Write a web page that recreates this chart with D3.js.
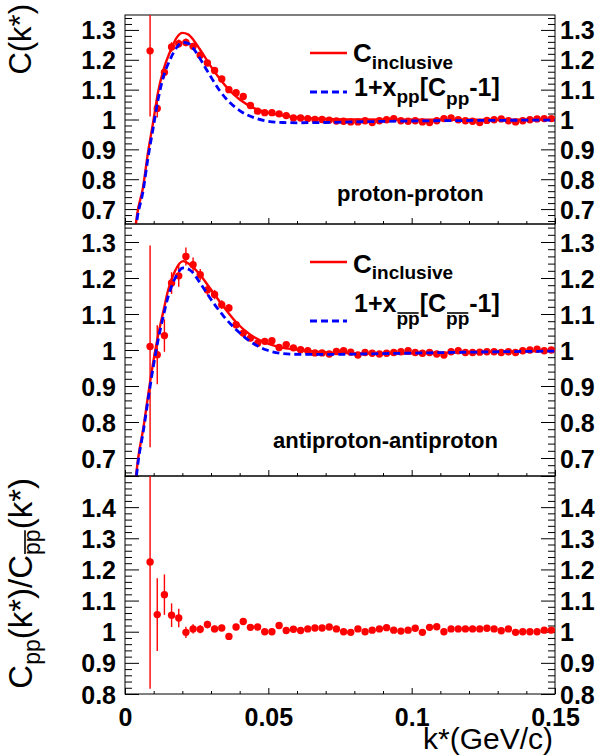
<!DOCTYPE html>
<html><head><meta charset="utf-8">
<script src="https://cdn.jsdelivr.net/npm/d3@7"></script>
<style>body{margin:0;background:#fff}svg{display:block}</style>
</head><body>
<svg id="c" width="606" height="755"></svg>
<script>
// ---------------- DATA ----------------
const kValues = [
 0.00875,0.01125,0.01375,0.01625,0.01875,0.02125,0.02375,0.02625,0.02875,0.03125,
 0.03375,0.03625,0.03875,0.04125,0.04375,0.04625,0.04875,0.05125,0.05375,0.05625,
 0.05875,0.06125,0.06375,0.06625,0.06875,0.07125,0.07375,0.07625,0.07875,0.08125,
 0.08375,0.08625,0.08875,0.09125,0.09375,0.09625,0.09875,0.10125,0.10375,0.10625,
 0.10875,0.11125,0.11375,0.11625,0.11875,0.12125,0.12375,0.12625,0.12875,0.13125,
 0.13375,0.13625,0.13875,0.14125,0.14375,0.14625,0.14875];

const ppValues = [
 1.230,1.037,1.158,1.243,1.254,1.258,1.245,1.215,1.189,1.164,
 1.136,1.100,1.090,1.077,1.047,1.028,1.023,1.023,1.019,1.013,
 1.005,1.005,1.003,1.000,1.000,0.998,0.995,0.994,0.992,0.992,
 0.996,0.990,0.996,0.999,1.003,0.996,0.994,0.996,0.992,0.990,
 0.996,1.003,1.005,0.999,0.996,0.994,0.990,0.997,0.999,1.002,
 0.996,0.992,0.996,0.999,1.002,1.003,1.003];
const ppErrors = [
 0.220,0.030,0.020,0.016,0.014,0.013,0.012,0.011,0.010,0.010,
 0.009,0.009,0.008,0.008,0.008,0.007,0.007,0.007,0.006,0.006,
 0.006,0.006,0.006,0.005,0.005,0.005,0.005,0.005,0.005,0.005,
 0.005,0.005,0.005,0.005,0.005,0.005,0.005,0.005,0.005,0.005,
 0.004,0.004,0.004,0.004,0.004,0.004,0.004,0.004,0.004,0.004,
 0.004,0.004,0.004,0.004,0.004,0.004,0.004];

const apValues = [
 1.010,0.987,1.040,1.186,1.206,1.260,1.237,1.209,1.167,1.154,
 1.126,1.117,1.070,1.047,1.033,1.019,1.024,1.026,1.007,1.015,
 1.006,1.001,0.998,0.992,0.992,0.989,0.996,0.998,0.994,0.986,
 0.993,0.991,0.989,0.991,0.993,0.995,0.998,0.993,0.991,0.993,
 0.989,0.986,0.995,0.998,0.993,0.993,0.994,0.995,0.995,0.993,
 0.995,0.993,0.998,1.000,1.002,0.998,1.000];
const apErrors = [
 0.280,0.082,0.045,0.030,0.030,0.025,0.020,0.016,0.014,0.013,
 0.012,0.011,0.010,0.010,0.009,0.009,0.008,0.008,0.008,0.007,
 0.007,0.007,0.007,0.006,0.006,0.006,0.006,0.006,0.006,0.006,
 0.006,0.006,0.006,0.006,0.005,0.005,0.005,0.005,0.005,0.005,
 0.005,0.005,0.005,0.005,0.005,0.005,0.005,0.005,0.005,0.005,
 0.005,0.005,0.005,0.005,0.005,0.005,0.005];

const ratioValues = [
 1.224,1.055,1.119,1.053,1.044,0.998,1.009,1.008,1.023,1.009,
 1.012,0.985,1.015,1.033,1.014,1.015,1.000,1.000,1.020,1.004,
 1.008,1.004,1.009,1.012,1.012,1.015,1.009,1.000,0.998,1.009,
 1.000,1.005,1.009,1.013,1.005,1.002,1.005,1.011,0.998,1.014,
 1.016,1.000,1.009,1.009,1.009,1.009,1.009,1.011,1.009,1.003,
 1.009,0.998,1.000,1.000,1.000,1.005,1.005];
const ratioErrors = [
 0.407,0.117,0.065,0.038,0.030,0.018,0.015,0.013,0.012,0.011,
 0.010,0.010,0.010,0.009,0.009,0.009,0.008,0.008,0.008,0.008,
 0.008,0.008,0.007,0.007,0.007,0.007,0.007,0.007,0.007,0.007,
 0.007,0.007,0.007,0.007,0.006,0.006,0.006,0.006,0.006,0.006,
 0.006,0.006,0.006,0.006,0.006,0.006,0.006,0.006,0.006,0.006,
 0.006,0.006,0.006,0.006,0.006,0.006,0.006];

// fitted curves
const ppCurveK      = [0.0032,0.0042,0.0063,0.0080,0.0098,0.0115,0.0133,0.0157,0.0181,0.0200,0.0220,0.0240,0.0260,0.0280,0.0300,0.0330,0.0360,0.0400,0.0450,0.0500,0.0550,0.0600,0.0700,0.0800,0.1000,0.1250,0.1500];
const ppInclusive   = [0.600,0.680,0.773,0.888,0.990,1.090,1.163,1.227,1.275,1.290,1.285,1.265,1.237,1.207,1.177,1.137,1.102,1.067,1.038,1.022,1.013,1.007,1.002,1.000,0.999,0.999,1.000];
const ppScaled      = [0.590,0.665,0.760,0.870,0.970,1.065,1.140,1.200,1.242,1.258,1.255,1.236,1.207,1.174,1.142,1.097,1.062,1.030,1.006,0.994,0.990,0.989,0.990,0.992,0.995,0.997,0.998];
const apCurveK      = [0.0032,0.0046,0.0064,0.0081,0.0099,0.0116,0.0134,0.0151,0.0174,0.0203,0.0227,0.0262,0.0296,0.0343,0.0390,0.0436,0.0494,0.0552,0.0610,0.0727,0.0900,0.1200,0.1500];
const apInclusive   = [0.600,0.700,0.783,0.876,0.969,1.043,1.108,1.168,1.219,1.247,1.237,1.209,1.172,1.121,1.075,1.043,1.019,1.006,1.000,0.992,0.990,0.994,0.998];
const apScaled      = [0.590,0.690,0.775,0.865,0.955,1.030,1.095,1.150,1.198,1.228,1.222,1.186,1.145,1.095,1.055,1.024,1.000,0.990,0.988,0.988,0.990,0.994,0.997];

const xTickLabels = [0, 0.05, 0.1, 0.15];
const cTickLabels = [0.7, 0.8, 0.9, 1.0, 1.1, 1.2, 1.3];
const rTickLabels = [0.8, 0.9, 1.0, 1.1, 1.2, 1.3, 1.4];

// ---------------- DRAW ----------------
const FONT = "'Liberation Sans', Arial, Helvetica, sans-serif";
const RED = "#ff0000", BLUE = "#0000ff";
const svg = d3.select("#c");
const x = d3.scaleLinear().domain([0, 0.15]).range([125, 555]);

const panels = [
  {id:"p1", y: d3.scaleLinear().domain([0.65,1.35]).range([224,15]), vals: ppValues, errs: ppErrors,
   curves: [[ppCurveK, ppInclusive, "solid"], [ppCurveK, ppScaled, "dash"]], labels: cTickLabels},
  {id:"p2", y: d3.scaleLinear().domain([0.65,1.35]).range([476,224]), vals: apValues, errs: apErrors,
   curves: [[apCurveK, apInclusive, "solid"], [apCurveK, apScaled, "dash"]], labels: cTickLabels},
  {id:"p3", y: d3.scaleLinear().domain([0.8,1.5]).range([694,476]), vals: ratioValues, errs: ratioErrors,
   curves: [], labels: rTickLabels}
];

const defs = svg.append("defs");
const xMajor = d3.range(0, 0.1501, 0.05);
const xMinor = d3.range(0, 0.1501, 0.01).filter(v => Math.abs(v/0.05 - Math.round(v/0.05)) > 1e-6);

function styleAxis(g) {
  g.select(".domain").remove();
  g.selectAll("line").attr("stroke", "#000").attr("stroke-width", 1);
}

panels.forEach(p => {
  const [y0, y1] = p.y.range();
  const [lo, hi] = p.y.domain();
  defs.append("clipPath").attr("id", "clip-" + p.id)
    .append("rect").attr("x", x.range()[0]).attr("y", y1).attr("width", x.range()[1]-x.range()[0]).attr("height", y0-y1);

  const majors = d3.range(Math.ceil(lo*10-1e-9)/10, hi+1e-9, 0.1).map(v => +v.toFixed(3));
  const minors = d3.range(Math.ceil(lo*50-1e-9)/50, hi+1e-9, 0.02).map(v => +v.toFixed(3))
      .filter(v => Math.abs(v*10 - Math.round(v*10)) > 1e-6);

  svg.append("g").attr("transform", `translate(${x.range()[0]},0)`)
    .call(d3.axisRight(p.y).tickValues(majors).tickSize(14).tickSizeOuter(0).tickFormat("")).call(styleAxis);
  svg.append("g").attr("transform", `translate(${x.range()[0]},0)`)
    .call(d3.axisRight(p.y).tickValues(minors).tickSize(7).tickSizeOuter(0).tickFormat("")).call(styleAxis);
  svg.append("g").attr("transform", `translate(${x.range()[1]},0)`)
    .call(d3.axisLeft(p.y).tickValues(majors).tickSize(14).tickSizeOuter(0).tickFormat("")).call(styleAxis);
  svg.append("g").attr("transform", `translate(${x.range()[1]},0)`)
    .call(d3.axisLeft(p.y).tickValues(minors).tickSize(7).tickSizeOuter(0).tickFormat("")).call(styleAxis);
  svg.append("g").attr("transform", `translate(0,${y0})`)
    .call(d3.axisTop(x).tickValues(xMajor).tickSize(6).tickSizeOuter(0).tickFormat("")).call(styleAxis);
  svg.append("g").attr("transform", `translate(0,${y0})`)
    .call(d3.axisTop(x).tickValues(xMinor).tickSize(3).tickSizeOuter(0).tickFormat("")).call(styleAxis);

  const fmt = d3.format("~g");
  [[d3.axisLeft, 116], [d3.axisRight, 560]].forEach(([ax, px]) => {
    const g = svg.append("g").attr("transform", `translate(${px},0)`)
      .call(ax(p.y).tickValues(p.labels).tickSize(0).tickPadding(0).tickFormat(fmt));
    g.select(".domain").remove();
    g.selectAll("text").attr("font-family", FONT).attr("font-weight", "bold")
      .attr("font-size", 25).attr("fill", "#000").attr("dy", "0.36em");
  });

  svg.append("rect").attr("x", x.range()[0]).attr("y", y1).attr("width", x.range()[1]-x.range()[0]).attr("height", y0-y1)
    .attr("fill", "none").attr("stroke", "#000").attr("stroke-width", 1);

  const plot = svg.append("g").attr("clip-path", `url(#clip-${p.id})`);
  const pts = kValues.map((k, i) => ({k, v: p.vals[i], e: p.errs[i]}));
  plot.selectAll("line.err").data(pts).join("line").attr("class", "err")
    .attr("x1", d => x(d.k)).attr("x2", d => x(d.k))
    .attr("y1", d => p.y(d.v - d.e)).attr("y2", d => p.y(d.v + d.e))
    .attr("stroke", RED).attr("stroke-width", 1.4);
  plot.selectAll("circle").data(pts).join("circle")
    .attr("cx", d => x(d.k)).attr("cy", d => p.y(d.v)).attr("r", 3.7).attr("fill", RED);

  const line = d3.line().x(d => x(d[0])).y(d => p.y(d[1])).curve(d3.curveMonotoneX);
  p.curves.forEach(([ks, vs, style]) => {
    plot.append("path").datum(ks.map((k, i) => [k, vs[i]])).attr("d", line)
      .attr("fill", "none")
      .attr("stroke", style === "solid" ? RED : BLUE)
      .attr("stroke-width", style === "solid" ? 2.4 : 2.8)
      .attr("stroke-dasharray", style === "solid" ? null : "7,4");
  });
});

// x labels (bottom only)
{
  const g = svg.append("g").attr("transform", "translate(0,708)")
    .call(d3.axisBottom(x).tickValues(xTickLabels).tickSize(0).tickPadding(0).tickFormat(d3.format("~g")));
  g.select(".domain").remove();
  g.selectAll("text").attr("font-family", FONT).attr("font-weight", "bold")
    .attr("font-size", 25).attr("fill", "#000");
}

function rich(x0, y0, segs, opts) {
  const g = svg.append("g");
  let cx = 0;
  segs.forEach(s => {
    const dy = s.dy || 0;
    const t = g.append("text").attr("x", cx).attr("y", dy)
      .attr("font-family", FONT).attr("font-weight", opts.weight || "normal")
      .attr("font-size", s.size).attr("fill", "#000").text(s.t);
    const w = t.node().getComputedTextLength();
    if (s.over) {
      g.append("line").attr("x1", cx + 1).attr("x2", cx + w - 1)
        .attr("y1", dy - s.over).attr("y2", dy - s.over)
        .attr("stroke", "#000").attr("stroke-width", 1.6);
    }
    cx += w;
  });
  const shift = opts.anchor === "end" ? -cx : 0;
  g.attr("transform", `translate(${x0},${y0})` + (opts.rotate ? " rotate(-90)" : "") + ` translate(${shift},0)`);
  return g;
}

// axis titles
rich(31, 4, [{t: "C(k*)", size: 31}], {rotate: true, anchor: "end"});
rich(32, 478, [
  {t: "C", size: 33}, {t: "pp", size: 23, dy: 8}, {t: "(k*)/C", size: 33},
  {t: "pp", size: 23, dy: 8, over: 15}, {t: "(k*)", size: 33}
], {rotate: true, anchor: "end"});
rich(553, 749, [{t: "k*(GeV/c)", size: 30}], {anchor: "end"});

// legends
function legendLine(y, color, dash) {
  svg.append("line").attr("x1", 310).attr("x2", 347).attr("y1", y).attr("y2", y)
    .attr("stroke", color).attr("stroke-width", dash ? 2.8 : 2.4)
    .attr("stroke-dasharray", dash ? "7,4" : null);
}
legendLine(53, RED, false);
legendLine(92, BLUE, true);
rich(353, 62, [{t: "C", size: 26}, {t: "inclusive", size: 19, dy: 7}], {weight: "bold"});
rich(354, 96, [{t: "1+x", size: 25}, {t: "pp", size: 19, dy: 7}, {t: "[C", size: 25},
  {t: "pp", size: 19, dy: 9}, {t: "-1]", size: 25}], {weight: "bold"});

legendLine(262, RED, false);
legendLine(321, BLUE, true);
rich(353, 273, [{t: "C", size: 26}, {t: "inclusive", size: 19, dy: 6}], {weight: "bold"});
rich(354, 312, [{t: "1+x", size: 25}, {t: "pp", size: 19, dy: 13, over: 12}, {t: "[C", size: 25},
  {t: "pp", size: 19, dy: 13, over: 12}, {t: "-1]", size: 25}], {weight: "bold"});

// panel labels
svg.append("text").attr("x", 337).attr("y", 201).attr("font-family", FONT).attr("font-weight", "bold")
  .attr("font-size", 22).text("proton-proton");
svg.append("text").attr("x", 273).attr("y", 448).attr("font-family", FONT).attr("font-weight", "bold")
  .attr("font-size", 22).text("antiproton-antiproton");
</script>
</body></html>
